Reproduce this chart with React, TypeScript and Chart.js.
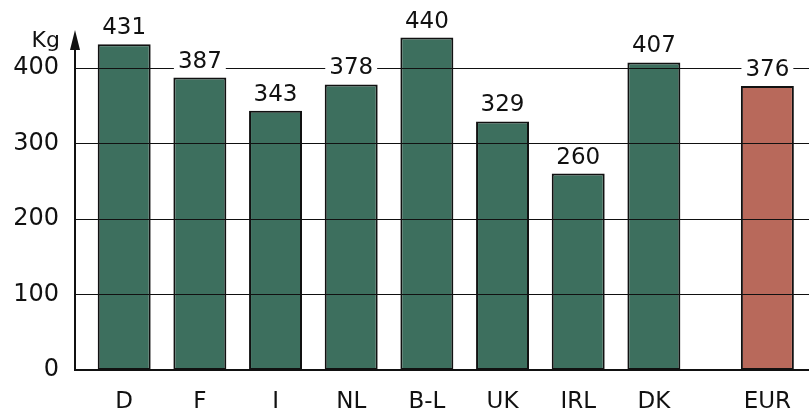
import React, { useEffect, useRef } from "react";
import { Chart, registerables } from "chart.js";

Chart.register(...registerables);

const categories = ["D", "F", "I", "NL", "B-L", "UK", "IRL", "DK", "EUR"];
const values = [431, 387, 343, 378, 440, 329, 260, 407, 376];
const yTicks = [0, 100, 200, 300, 400];
const unitLabel = "Kg";

const GREEN = "#3d6f5e";
const RED = "#b8695b";
const FONT = "'DejaVu Sans', 'Liberation Sans', sans-serif";

export default function App() {
  const ref = useRef<HTMLCanvasElement | null>(null);

  useEffect(() => {
    document.body.style.margin = "0";
    const lastIdx = categories.length - 1;
    // average bar set apart by half a slot
    const xs = categories.map((_, i) => (i === lastIdx ? i + 0.5 : i));

    const overlay = {
      id: "overlay",
      afterDatasetsDraw(chart: any) {
        const ctx = chart.ctx;
        const y = chart.scales.y;
        const area = chart.chartArea;
        ctx.save();
        ctx.strokeStyle = "#111";
        ctx.lineWidth = 1;
        yTicks.forEach((t) => {
          if (t === 0) return;
          const py = Math.round(y.getPixelForValue(t)) + 0.5;
          ctx.beginPath();
          ctx.moveTo(area.left, py);
          ctx.lineTo(area.right, py);
          ctx.stroke();
        });
        ctx.restore();
      },
      afterDraw(chart: any) {
        const ctx = chart.ctx;
        const area = chart.chartArea;
        ctx.save();
        // y-axis with arrow
        ctx.strokeStyle = "#111";
        ctx.fillStyle = "#111";
        ctx.lineWidth = 2;
        ctx.beginPath();
        ctx.moveTo(area.left, area.bottom);
        ctx.lineTo(area.left, area.top + 14);
        ctx.stroke();
        ctx.beginPath();
        ctx.moveTo(area.left, area.top);
        ctx.lineTo(area.left - 5, area.top + 20);
        ctx.lineTo(area.left + 5, area.top + 20);
        ctx.closePath();
        ctx.fill();
        // unit label
        ctx.font = `22px ${FONT}`;
        ctx.textAlign = "right";
        ctx.textBaseline = "middle";
        ctx.fillText(unitLabel, area.left - 15, area.top + 11);
        // value labels
        ctx.font = `23px ${FONT}`;
        ctx.textAlign = "center";
        ctx.textBaseline = "alphabetic";
        const meta = chart.getDatasetMeta(0);
        meta.data.forEach((bar: any, i: number) => {
          const txt = String(values[i]);
          const w = ctx.measureText(txt).width;
          const base = bar.y - 10;
          ctx.fillStyle = "#ffffff";
          ctx.fillRect(bar.x - w / 2 - 4, base - 19, w + 8, 22);
          ctx.fillStyle = "#111";
          ctx.fillText(txt, bar.x, base);
        });
        ctx.restore();
      },
    };

    const chart = new Chart(ref.current as HTMLCanvasElement, {
      type: "bar",
      data: {
        datasets: [
          {
            data: values.map((v, i) => ({ x: xs[i], y: v })),
            backgroundColor: values.map((_, i) => (i === lastIdx ? RED : GREEN)),
            borderColor: "#111",
            borderWidth: 2,
            borderSkipped: false,
            categoryPercentage: 1,
            barPercentage: 0.7,
          },
        ],
      },
      options: {
        animation: false,
        responsive: false,
        maintainAspectRatio: false,
        layout: { padding: { top: 30, right: 0, left: 0, bottom: 0 } },
        plugins: { legend: { display: false }, tooltip: { enabled: false } },
        scales: {
          x: {
            type: "linear",
            offset: false,
            min: -0.65,
            max: 9.05,
            afterBuildTicks: (s: any) => {
              s.ticks = xs.map((v) => ({ value: v }));
            },
            afterFit: (s: any) => {
              s.height = 40;
            },
            ticks: {
              autoSkip: false,
              maxRotation: 0,
              padding: 10,
              color: "#111",
              font: { family: FONT, size: 23 },
              callback: (_v: any, i: number) => categories[i],
            },
            grid: { display: false },
            border: { display: true, color: "#111", width: 2 },
          },
          y: {
            min: 0,
            max: 450,
            afterBuildTicks: (s: any) => {
              s.ticks = yTicks.map((v) => ({ value: v }));
            },
            afterFit: (s: any) => {
              s.width = 75;
            },
            ticks: {
              padding: 8,
              color: "#111",
              font: { family: FONT, size: 24 },
            },
            grid: { display: false },
            border: { display: false },
          },
        },
      },
      plugins: [overlay],
    } as any);
    return () => chart.destroy();
  }, []);

  return (
    <div style={{ position: "absolute", left: 0, top: 0, width: 809, height: 410, background: "#fff" }}>
      <canvas ref={ref} width={809} height={410} style={{ width: 809, height: 410 }} />
    </div>
  );
}
